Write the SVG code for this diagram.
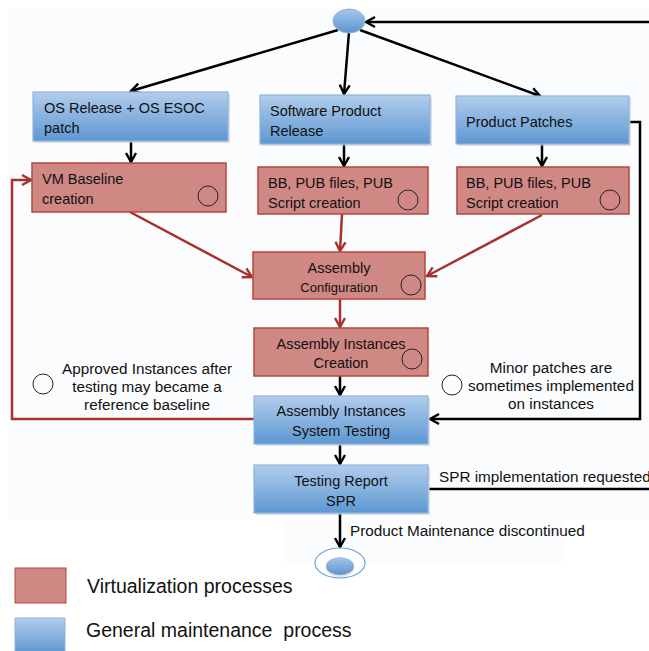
<svg xmlns="http://www.w3.org/2000/svg" width="649" height="651" viewBox="0 0 649 651">
<defs>
<linearGradient id="gb" x1="0" y1="0" x2="0" y2="1">
<stop offset="0" stop-color="#b2cdec"/>
<stop offset="1" stop-color="#5d97d2"/>
</linearGradient>
<linearGradient id="ge" x1="0" y1="0" x2="0" y2="1">
<stop offset="0" stop-color="#a7c6ea"/>
<stop offset="1" stop-color="#5b94d0"/>
</linearGradient>
<marker id="ab" viewBox="-12 -7 14 14" refX="0" refY="0" markerWidth="14" markerHeight="14" markerUnits="userSpaceOnUse" orient="auto">
<path d="M-9,-5 L0,0 L-9,5" fill="none" stroke="#000" stroke-width="2.4"/>
</marker>
<marker id="ar" viewBox="-12 -7 14 14" refX="0" refY="0" markerWidth="14" markerHeight="14" markerUnits="userSpaceOnUse" orient="auto">
<path d="M-9,-5 L0,0 L-9,5" fill="none" stroke="#a8322b" stroke-width="2.4"/>
</marker>
</defs>
<style>
.blue{fill:url(#gb);stroke:#8db4e0;stroke-width:1.2}
.red{fill:#d08884;stroke:#b5463f;stroke-width:1.5}
.sh{fill:#c9ccd2;opacity:0.6}
.t{font-family:"Liberation Sans",Arial,sans-serif;font-size:14.5px;fill:#111}
.tc{text-anchor:middle}
.n{font-family:"Liberation Sans Narrow","Liberation Sans",Arial,sans-serif;font-size:15.3px;fill:#111;text-anchor:middle}
.lg{font-family:"Liberation Sans",Arial,sans-serif;font-size:19.5px;fill:#111;white-space:pre}
.oc{fill:none;stroke:#222;stroke-width:1}
.ck{fill:none;stroke:#000;stroke-width:2.5}
.cr{fill:none;stroke:#a8322b;stroke-width:2.5}
</style>
<rect width="649" height="651" fill="#ffffff"/>
<rect x="8" y="9" width="641" height="511" fill="#fbfcfe"/>
<rect x="283" y="520" width="279" height="43" fill="#fbfcfe"/>

<g id="connectors">
<path class="ck" d="M338,30 L131,91" marker-end="url(#ab)"/>
<path class="ck" d="M349,32 L344,94" marker-end="url(#ab)"/>
<path class="ck" d="M360,30 L540,96" marker-end="url(#ab)"/>
<path class="ck" d="M131,141 L131,162" marker-end="url(#ab)"/>
<path class="ck" d="M344,144 L344,166" marker-end="url(#ab)"/>
<path class="ck" d="M542,144 L542,166" marker-end="url(#ab)"/>
<path class="cr" d="M130,212 L252,277" marker-end="url(#ar)"/>
<path class="cr" d="M342,214 L340,251" marker-end="url(#ar)"/>
<path class="cr" d="M542,215 L427,276" marker-end="url(#ar)"/>
<path class="cr" d="M340,299 L340,327" marker-end="url(#ar)"/>
<path class="ck" d="M340,376 L340,395" marker-end="url(#ab)"/>
<path class="ck" d="M340,444 L340,464" marker-end="url(#ab)"/>
<path class="ck" d="M340,513 L340,547" marker-end="url(#ab)"/>
<path class="cr" d="M254,419 L12,419 L12,180 L31,180" marker-end="url(#ar)"/>
<path class="ck" d="M629,122 L640,122 L640,419 L430,419" marker-end="url(#ab)"/>
<path class="ck" d="M429,489 L649,489"/>
<path class="ck" d="M649,22 L366,22" marker-end="url(#ab)"/>
</g>

<g id="start">
<ellipse cx="349" cy="21" rx="16" ry="12" fill="url(#ge)" stroke="#8db4e0" stroke-width="1"/>
</g>

<g id="os-release">
<rect class="sh" x="35" y="94" width="195" height="49"/>
<rect class="blue" x="33" y="92" width="195" height="49"/>
<text class="t" x="44" y="113">OS Release + OS ESOC</text>
<text class="t" x="44" y="133">patch</text>
</g>

<g id="software-product-release">
<rect class="sh" x="262" y="97" width="170" height="49"/>
<rect class="blue" x="260" y="95" width="170" height="49"/>
<text class="t" x="270" y="116">Software Product</text>
<text class="t" x="270" y="136">Release</text>
</g>

<g id="product-patches">
<rect class="sh" x="458" y="98" width="173" height="48"/>
<rect class="blue" x="456" y="96" width="173" height="48"/>
<text class="t" x="466" y="127">Product Patches</text>
</g>

<g id="vm-baseline">
<rect class="red" x="32" y="163" width="194" height="49"/>
<text class="t" x="42" y="184">VM Baseline</text>
<text class="t" x="42" y="204">creation</text>
<circle class="oc" cx="208" cy="196" r="10"/>
</g>

<g id="bb-pub-mid">
<rect class="red" x="258" y="167" width="170" height="47"/>
<text class="t" x="268" y="188">BB, PUB files, PUB</text>
<text class="t" x="268" y="208">Script creation</text>
<circle class="oc" cx="408" cy="200" r="10"/>
</g>

<g id="bb-pub-right">
<rect class="red" x="457" y="167" width="172" height="47"/>
<text class="t" x="466" y="188">BB, PUB files, PUB</text>
<text class="t" x="466" y="208">Script creation</text>
<circle class="oc" cx="610" cy="200" r="10"/>
</g>

<g id="assembly-configuration">
<rect class="red" x="253" y="252" width="172" height="47"/>
<text class="t tc" x="339" y="273">Assembly</text>
<text class="t tc" x="339" y="292" style="font-size:13px">Configuration</text>
<circle class="oc" cx="411" cy="285" r="10"/>
</g>

<g id="assembly-instances-creation">
<rect class="red" x="254" y="328" width="174" height="48"/>
<text class="t tc" x="341" y="349">Assembly Instances</text>
<text class="t tc" x="341" y="368">Creation</text>
<circle class="oc" cx="412" cy="359" r="10"/>
</g>

<g id="assembly-instances-testing">
<rect class="sh" x="256" y="398" width="174" height="48"/>
<rect class="blue" x="254" y="396" width="174" height="48"/>
<text class="t tc" x="341" y="416">Assembly Instances</text>
<text class="t tc" x="341" y="436">System Testing</text>
</g>

<g id="testing-report">
<rect class="sh" x="256" y="467" width="174" height="48"/>
<rect class="blue" x="254" y="465" width="174" height="48"/>
<text class="t tc" x="341" y="486">Testing Report</text>
<text class="t tc" x="341" y="506">SPR</text>
</g>

<g id="end">
<ellipse cx="340" cy="563" rx="25" ry="15" fill="#ffffff" stroke="#6fa3d8" stroke-width="1.2"/>
<ellipse cx="340" cy="568" rx="14" ry="9" fill="#c9ccd2" opacity="0.6"/>
<ellipse cx="340" cy="566" rx="14" ry="9" fill="url(#ge)"/>
</g>

<g id="note-approved">
<circle class="oc" cx="43" cy="384" r="10"/>
<text class="n" x="147" y="374">Approved Instances after</text>
<text class="n" x="147" y="392">testing may became a</text>
<text class="n" x="147" y="410">reference baseline</text>
</g>

<g id="note-minor">
<circle class="oc" cx="452" cy="385" r="10"/>
<text class="n" x="551" y="373">Minor patches are</text>
<text class="n" x="551" y="391">sometimes implemented</text>
<text class="n" x="551" y="409">on instances</text>
</g>

<g id="labels">
<text class="n" x="439" y="482" style="text-anchor:start">SPR implementation requested</text>
<text class="n" x="350" y="536" style="text-anchor:start">Product Maintenance discontinued</text>
</g>

<g id="legend">
<rect x="15" y="568" width="51" height="35" fill="#d08884" stroke="#b5463f" stroke-width="1"/>
<text class="lg" x="87" y="593">Virtualization processes</text>
<rect x="15" y="618" width="50" height="35" fill="url(#gb)" stroke="#8db4e0" stroke-width="1"/>
<text class="lg" x="86" y="637" xml:space="preserve">General maintenance  process</text>
</g>
</svg>
